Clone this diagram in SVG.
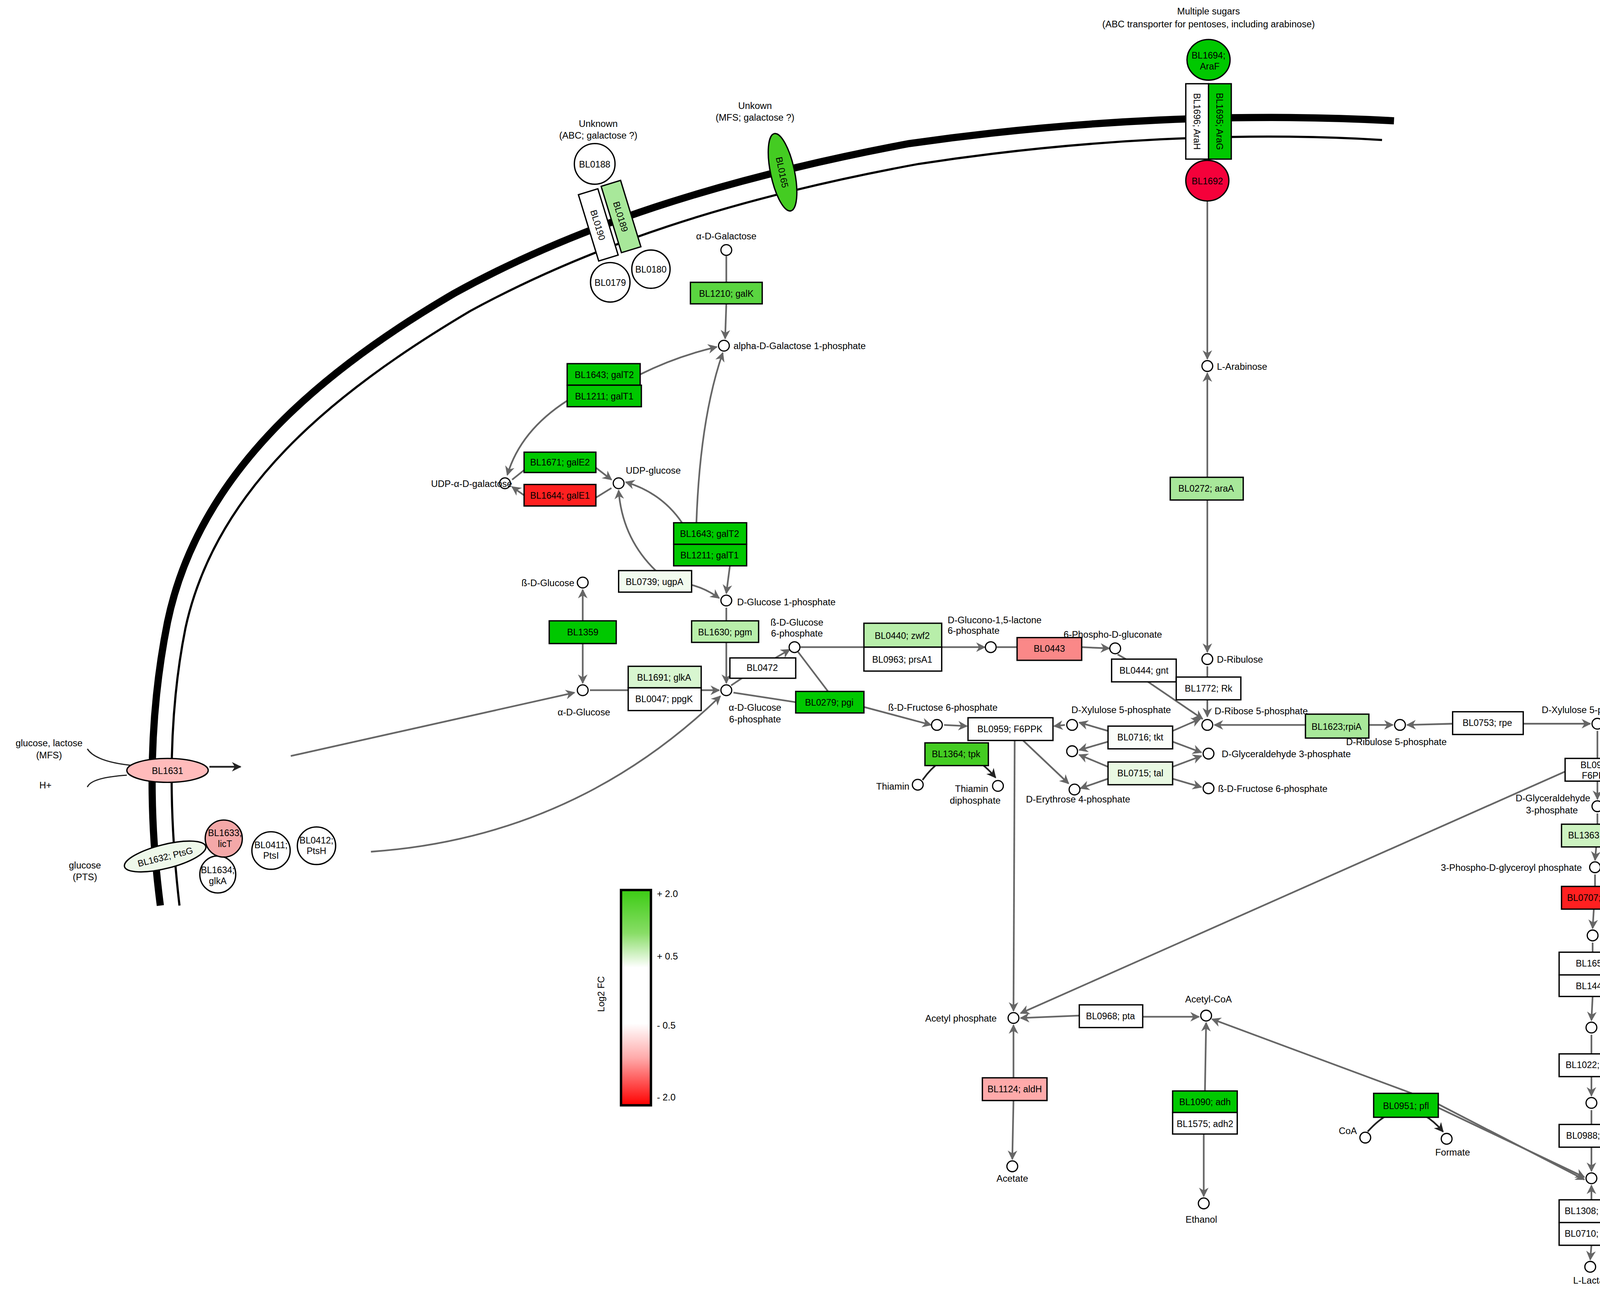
<svg xmlns="http://www.w3.org/2000/svg" width="4803" height="3311" viewBox="0 0 4803 3311">
<style>
text{font-family:"Liberation Sans",Arial,sans-serif;fill:#000}
.m{font-size:7.8px}
.b{font-size:7.6px;text-anchor:middle}
.c{text-anchor:middle}
.e{text-anchor:end}
.bx{stroke:#000;stroke-width:1.1}
.ci{fill:#fff;stroke:#000;stroke-width:1}
.cn{fill:none;stroke:#666;stroke-width:1.4}
.ca{fill:none;stroke:#666;stroke-width:1.4;marker-end:url(#ah)}
.ck{fill:none;stroke:#222;stroke-width:1.4;marker-end:url(#ak)}
.G{fill:#00c800}.G2{fill:#44cc22}.G3{fill:#5ad540}.L1{fill:#a8e89a}.L2{fill:#b8eeaa}.L3{fill:#ccf2c0}.L4{fill:#d8f6d0}.L5{fill:#e8f8e2}.W{fill:#fff}.R{fill:#ff2020}.P{fill:#fa8888}.P2{fill:#ffaaaa}
</style>
<defs>
<marker id="ah" viewBox="0 0 10 10" refX="9" refY="5" markerWidth="8" markerHeight="8" markerUnits="userSpaceOnUse" orient="auto"><path d="M0,0L10,5L0,10L3,5z" fill="#666"/></marker>
<marker id="ak" viewBox="0 0 10 10" refX="9" refY="5" markerWidth="8" markerHeight="8" markerUnits="userSpaceOnUse" orient="auto"><path d="M0,0L10,5L0,10L3,5z" fill="#222"/></marker>
<linearGradient id="lg" x1="0" y1="0" x2="0" y2="1">
<stop offset="0" stop-color="#3ccc14"/><stop offset="0.2" stop-color="#88dd66"/><stop offset="0.36" stop-color="#fff"/><stop offset="0.62" stop-color="#fff"/><stop offset="0.78" stop-color="#ffaaaa"/><stop offset="1" stop-color="#ff0000"/>
</linearGradient>
</defs>
<rect width="4803" height="3311" fill="#fff"/>
<g transform="scale(3.0632)">
<g id="membrane">
<path d="M134,757 C124,680 124,600 140,520 C165,400 260,315 380,245 C480,190 600,150 760,120 C900,100 1040,94 1165,101" fill="none" stroke="#000" stroke-width="6"/>
<path d="M150,757 C141,680 140,600 155,525 C180,410 275,330 393,260 C492,206 610,166 768,137 C905,116 1040,110 1155,117" fill="none" stroke="#000" stroke-width="1.8"/>
</g>
<g id="connectors">
<line class="cn" x1="607" y1="214" x2="607" y2="236"/>
<line class="ca" x1="607" y1="254" x2="606" y2="283"/>
<path class="ca" d="M535,313 Q565,298 599,290"/>
<path class="ca" d="M474,335 Q435,360 424,397"/>
<line class="cn" x1="428" y1="401" x2="438" y2="393"/>
<line class="ca" x1="498" y1="391" x2="511" y2="401"/>
<line class="cn" x1="511" y1="408" x2="498" y2="416"/>
<line class="ca" x1="438" y1="414" x2="428" y2="407"/>
<path class="ca" d="M582,437 Q585,350 604,295"/>
<path class="ca" d="M570,437 Q553,412 523,403"/>
<line class="ca" x1="610" y1="473" x2="607" y2="496"/>
<path class="ca" d="M548,477 Q520,450 517,410"/>
<path class="ca" d="M578,489 Q590,492 601,500"/>
<line class="ca" x1="487" y1="519" x2="487" y2="493"/>
<line class="ca" x1="487" y1="538" x2="487" y2="571"/>
<line class="ca" x1="493" y1="577" x2="601" y2="577"/>
<line class="cn" x1="607" y1="508" x2="607" y2="519"/>
<line class="ca" x1="607" y1="537" x2="607" y2="571"/>
<path class="ca" d="M310,712 Q480,700 602,582"/>
<line class="ca" x1="243" y1="632" x2="480" y2="579"/>
<line class="cn" x1="611" y1="573" x2="620" y2="567"/>
<line class="ca" x1="648" y1="550" x2="660" y2="543"/>
<line class="cn" x1="613" y1="579" x2="665" y2="587"/>
<line class="ca" x1="722" y1="591" x2="778" y2="606"/>
<line class="cn" x1="667" y1="545" x2="692" y2="578"/>
<line class="ca" x1="669" y1="541" x2="823" y2="541"/>
<line class="cn" x1="833" y1="541" x2="850" y2="541"/>
<line class="ca" x1="904" y1="541" x2="927" y2="542"/>
<line class="cn" x1="934" y1="547" x2="941" y2="551"/>
<line class="ca" x1="958" y1="569" x2="1005" y2="601"/>
<line class="ca" x1="1009" y1="168" x2="1009" y2="300"/>
<line class="ca" x1="1009" y1="399" x2="1009" y2="312"/>
<line class="ca" x1="1009" y1="418" x2="1009" y2="545"/>
<line class="cn" x1="1009" y1="557" x2="1009" y2="566"/>
<line class="ca" x1="1009" y1="585" x2="1009" y2="599"/>
<line class="ca" x1="1091" y1="606" x2="1015" y2="606"/>
<line class="ca" x1="1144" y1="606" x2="1164" y2="606"/>
<line class="ca" x1="1214" y1="605" x2="1176" y2="606"/>
<line class="ca" x1="1273" y1="605" x2="1329" y2="605"/>
<line class="cn" x1="1335" y1="611" x2="1335" y2="634"/>
<line class="ca" x1="1335" y1="653" x2="1335" y2="668"/>
<line class="ca" x1="1308" y1="645" x2="853" y2="847"/>
<path class="ck" d="M1361,612 Q1390,645 1420,617"/>
<line class="ca" x1="1380" y1="673" x2="1341" y2="674"/>
<line class="ca" x1="1434" y1="673" x2="1468" y2="674"/>
<path class="ck" d="M1400,702 Q1385,678 1341,674"/>
<path class="ck" d="M1425,702 Q1440,676 1468,674"/>
<line class="ck" x1="1404" y1="721" x2="1407" y2="735"/>
<line class="ck" x1="1411" y1="721" x2="1407" y2="735"/>
<line class="cn" x1="1335" y1="680" x2="1335" y2="689"/>
<line class="ca" x1="1334" y1="708" x2="1333" y2="719"/>
<line class="cn" x1="1333" y1="731" x2="1333" y2="741"/>
<line class="ca" x1="1332" y1="760" x2="1331" y2="776"/>
<line class="cn" x1="1331" y1="788" x2="1331" y2="796"/>
<line class="ca" x1="1331" y1="833" x2="1330" y2="853"/>
<line class="cn" x1="1330" y1="865" x2="1330" y2="881"/>
<line class="ca" x1="1330" y1="900" x2="1330" y2="916"/>
<line class="cn" x1="1330" y1="928" x2="1330" y2="940"/>
<line class="ca" x1="1330" y1="959" x2="1330" y2="979"/>
<line class="ca" x1="1330" y1="1003" x2="1330" y2="991"/>
<line class="ca" x1="1330" y1="1041" x2="1329" y2="1053"/>
<line class="ca" x1="1180" y1="914" x2="1013" y2="852"/>
<line class="ca" x1="1202" y1="926" x2="1324" y2="984"/>
<line class="ca" x1="1200" y1="922" x2="1324" y2="986"/>
<line class="ca" x1="902" y1="849" x2="853" y2="851"/>
<line class="ca" x1="955" y1="850" x2="1002" y2="850"/>
<line class="ca" x1="847" y1="901" x2="847" y2="857"/>
<line class="ca" x1="847" y1="920" x2="846" y2="969"/>
<line class="ca" x1="1007" y1="912" x2="1008" y2="855"/>
<line class="ca" x1="1006" y1="948" x2="1006" y2="1000"/>
<path class="ck" d="M1143,946 Q1175,910 1206,946"/>
<line class="ca" x1="789" y1="606" x2="808" y2="607"/>
<line class="ca" x1="848" y1="619" x2="847" y2="845"/>
<line class="ca" x1="855" y1="619" x2="893" y2="655"/>
<line class="ca" x1="926" y1="611" x2="902" y2="604"/>
<line class="ca" x1="980" y1="611" x2="1003" y2="601"/>
<line class="ca" x1="890" y1="606" x2="881" y2="607"/>
<line class="ca" x1="926" y1="620" x2="902" y2="627"/>
<line class="ca" x1="980" y1="620" x2="1004" y2="629"/>
<line class="ca" x1="926" y1="641" x2="902" y2="631"/>
<line class="ca" x1="980" y1="641" x2="1004" y2="632"/>
<line class="ca" x1="926" y1="651" x2="903" y2="659"/>
<line class="ca" x1="980" y1="651" x2="1004" y2="658"/>
<path class="ck" d="M771,652 Q800,612 832,650"/>
<line class="ck" x1="175" y1="641" x2="201" y2="641"/>
<path d="M73,626 Q80,637 112,640" fill="none" stroke="#222" stroke-width="1"/>
<path d="M73,658 Q76,650 106,648" fill="none" stroke="#222" stroke-width="1"/>
</g>

<g id="labels-top">
<text class="m c" x="1010" y="12">Multiple sugars</text>
<text class="m c" x="1010" y="23">(ABC transporter for pentoses, including arabinose)</text>
<text class="m c" x="631" y="91">Unkown</text>
<text class="m c" x="631" y="101">(MFS; galactose ?)</text>
<text class="m c" x="500" y="106">Unknown</text>
<text class="m c" x="500" y="116">(ABC; galactose ?)</text>
</g>
<g id="BL1694"><ellipse cx="1010" cy="50" rx="18" ry="17" class="bx G"/><text class="b" x="1010" y="49">BL1694;</text><text class="b" x="1011" y="58">AraF</text></g>
<g id="BL1696"><rect x="991" y="70" width="19" height="63" class="bx W"/><text class="b" transform="translate(1000.5,101.5) rotate(90)" dy="3">BL1696; AraH</text></g>
<g id="BL1695"><rect x="1010" y="70" width="19" height="63" class="bx G"/><text class="b" transform="translate(1019.5,101.5) rotate(90)" dy="3">BL1695; AraG</text></g>
<g id="BL1692"><ellipse cx="1009" cy="151" rx="18" ry="17" class="bx" fill="#f5003a"/><text class="b" x="1009" y="154">BL1692</text></g>
<g id="BL0165"><ellipse cx="654" cy="144" rx="10" ry="33" transform="rotate(-12 654 144)" class="bx G2"/><text class="b" transform="translate(654,144) rotate(78)" dy="3">BL0165</text></g>
<g id="BL0188"><circle cx="497" cy="137" r="17" class="bx W"/><text class="b" x="497" y="140">BL0188</text></g>
<g id="BL0190"><g transform="translate(500,188) rotate(-17)"><rect x="-8.5" y="-29" width="17" height="58" class="bx W"/><text class="b" transform="rotate(90)" dy="3">BL0190</text></g></g>
<g id="BL0189"><g transform="translate(519,181) rotate(-17)"><rect x="-8.5" y="-29" width="17" height="58" class="bx L1"/><text class="b" transform="rotate(90)" dy="3">BL0189</text></g></g>
<g id="BL0179"><circle cx="510" cy="236" r="16.5" class="bx W"/><text class="b" x="510" y="239">BL0179</text></g>
<g id="BL0180"><circle cx="544" cy="225" r="16" class="bx W"/><text class="b" x="544" y="228">BL0180</text></g>

<g id="BL1631"><ellipse cx="140" cy="644" rx="34" ry="10" class="bx" fill="#ffbbbb"/><text class="b" x="140" y="647">BL1631</text></g>
<text class="m c" x="41" y="624">glucose, lactose</text>
<text class="m c" x="41" y="634">(MFS)</text>
<text class="m c" x="38" y="659">H+</text>
<g id="BL1632"><ellipse cx="138" cy="716" rx="35" ry="10" transform="rotate(-14 138 716)" class="bx" fill="#eef8ea"/><text class="b" transform="translate(138,716) rotate(-14)" dy="3">BL1632; PtsG</text></g>
<g id="BL1634"><ellipse cx="182" cy="731" rx="15" ry="15.5" class="bx W"/><text class="b" x="182" y="730">BL1634;</text><text class="b" x="182" y="739">glkA</text></g>
<g id="BL1633"><ellipse cx="187" cy="701" rx="15.5" ry="15.5" class="bx" fill="#f4a8a8"/><text class="b" x="188" y="699">BL1633;</text><text class="b" x="188" y="708">licT</text></g>
<g id="BL0411"><ellipse cx="226.5" cy="711" rx="16" ry="15.7" class="bx W"/><text class="b" x="226.5" y="709">BL0411;</text><text class="b" x="226.5" y="718">PtsI</text></g>
<g id="BL0412"><ellipse cx="264.5" cy="707" rx="16" ry="15.7" class="bx W"/><text class="b" x="264.5" y="705">BL0412;</text><text class="b" x="264.5" y="714">PtsH</text></g>
<text class="m c" x="71" y="726">glucose</text>
<text class="m c" x="71" y="736">(PTS)</text>

<g id="galactose">
<circle cx="607" cy="209" r="4.5" class="ci"/><text class="m c" x="607" y="200">α-D-Galactose</text>
<g id="BL1210"><rect x="577" y="236" width="60" height="18" class="bx G3"/><text class="b" x="607" y="248">BL1210; galK</text></g>
<circle cx="605" cy="289" r="4.5" class="ci"/><text class="m" x="613" y="292">alpha-D-Galactose 1-phosphate</text>
<g id="BL1643a"><rect x="474" y="304" width="61" height="18" class="bx G"/><text class="b" x="505" y="316">BL1643; galT2</text></g>
<g id="BL1211a"><rect x="474" y="322" width="62" height="18" class="bx G"/><text class="b" x="505" y="334">BL1211; galT1</text></g>
<circle cx="422" cy="404" r="4.5" class="ci"/><text class="m e" x="428" y="407">UDP-α-D-galactose</text>
<g id="BL1671"><rect x="438" y="378" width="60" height="17" class="bx G"/><text class="b" x="468" y="389">BL1671; galE2</text></g>
<g id="BL1644"><rect x="438" y="405" width="60" height="18" class="bx R"/><text class="b" x="468" y="417">BL1644; galE1</text></g>
<circle cx="517" cy="404" r="4.5" class="ci"/><text class="m" x="523" y="396">UDP-glucose</text>
<g id="BL1643b"><rect x="563" y="437" width="61" height="18" class="bx G"/><text class="b" x="593" y="449">BL1643; galT2</text></g>
<g id="BL1211b"><rect x="563" y="455" width="61" height="18" class="bx G"/><text class="b" x="593" y="467">BL1211; galT1</text></g>
<g id="BL0739"><rect x="517" y="477" width="61" height="18" class="bx" fill="#f2fbef"/><text class="b" x="547" y="489">BL0739; ugpA</text></g>
</g>
<g id="glycolysis-upper">
<circle cx="607" cy="502" r="4.5" class="ci"/><text class="m" x="616" y="506">D-Glucose 1-phosphate</text>
<circle cx="487" cy="487" r="4.5" class="ci"/><text class="m e" x="480" y="490">ß-D-Glucose</text>
<g id="BL1359"><rect x="459" y="519" width="56" height="19" class="bx G"/><text class="b" x="487" y="531">BL1359</text></g>
<circle cx="487" cy="577" r="4.5" class="ci"/><text class="m c" x="488" y="598">α-D-Glucose</text>
<g id="BL1691"><rect x="525" y="557" width="61" height="18" class="bx L4"/><text class="b" x="555" y="569">BL1691; glkA</text></g>
<g id="BL0047"><rect x="525" y="575" width="61" height="19" class="bx W"/><text class="b" x="555" y="587">BL0047; ppgK</text></g>
<g id="BL1630"><rect x="578" y="519" width="56" height="18" class="bx L2"/><text class="b" x="606" y="531">BL1630; pgm</text></g>
<circle cx="607" cy="577" r="4.5" class="ci"/><text class="m c" x="631" y="594">α-D-Glucose</text><text class="m c" x="631" y="604">6-phosphate</text>
<g id="BL0472"><rect x="610" y="550" width="55" height="17" class="bx W"/><text class="b" x="637" y="561">BL0472</text></g>
<circle cx="664" cy="541" r="4.5" class="ci"/><text class="m c" x="666" y="523">ß-D-Glucose</text><text class="m c" x="666" y="532">6-phosphate</text>
<g id="BL0279"><rect x="665" y="578" width="57" height="18" class="bx G"/><text class="b" x="693" y="590">BL0279; pgi</text></g>
<g id="BL0440"><rect x="722" y="521" width="65" height="20" class="bx L2"/><text class="b" x="754" y="534">BL0440; zwf2</text></g>
<g id="BL0963"><rect x="722" y="541" width="65" height="20" class="bx W"/><text class="b" x="754" y="554">BL0963; prsA1</text></g>
<text class="m" x="792" y="521">D-Glucono-1,5-lactone</text><text class="m" x="792" y="530">6-phosphate</text>
<circle cx="828" cy="541" r="4.5" class="ci"/>
<g id="BL0443"><rect x="850" y="533" width="54" height="19" class="bx P"/><text class="b" x="877" y="545">BL0443</text></g>
<circle cx="932" cy="542" r="4.5" class="ci"/><text class="m c" x="930" y="533">6-Phospho-D-gluconate</text>
<g id="BL0444"><rect x="929" y="551" width="54" height="19" class="bx W"/><text class="b" x="956" y="563">BL0444; gnt</text></g>
<g id="BL1772"><rect x="983" y="566" width="54" height="19" class="bx W"/><text class="b" x="1010" y="578">BL1772; Rk</text></g>
<circle cx="1009" cy="551" r="4.5" class="ci"/><text class="m" x="1017" y="554">D-Ribulose</text>
<circle cx="1009" cy="306" r="4.5" class="ci"/><text class="m" x="1017" y="309">L-Arabinose</text>
<g id="BL0272"><rect x="978" y="399" width="61" height="19" class="bx L1"/><text class="b" x="1008" y="411">BL0272; araA</text></g>
</g>
<g id="ppp">
<circle cx="1009" cy="606" r="4.5" class="ci"/><text class="m" x="1015" y="597">D-Ribose 5-phosphate</text>
<g id="BL1623"><rect x="1091" y="597" width="53" height="20" class="bx L1"/><text class="b" x="1117" y="610">BL1623;rpiA</text></g>
<circle cx="1170" cy="606" r="4.5" class="ci"/><text class="m c" x="1167" y="623">D-Ribulose 5-phosphate</text>
<g id="BL0753"><rect x="1214" y="595" width="59" height="19" class="bx W"/><text class="b" x="1243" y="607">BL0753; rpe</text></g>
<circle cx="1335" cy="605" r="4.5" class="ci"/><text class="m c" x="1330" y="596">D-Xylulose 5-phosphate</text>
<circle cx="783" cy="606" r="4.5" class="ci"/><text class="m c" x="788" y="594">ß-D-Fructose 6-phosphate</text>
<g id="BL0959a"><rect x="809" y="600" width="71" height="19" class="bx W"/><text class="b" x="844" y="612">BL0959; F6PPK</text></g>
<circle cx="896" cy="606" r="4.5" class="ci"/><text class="m c" x="937" y="596">D-Xylulose 5-phosphate</text>
<g id="BL0716"><rect x="926" y="607" width="54" height="19" class="bx" fill="#fafdf9"/><text class="b" x="953" y="619">BL0716; tkt</text></g>
<circle cx="896" cy="628" r="4.5" class="ci"/>
<g id="BL0715"><rect x="926" y="637" width="54" height="19" class="bx L5"/><text class="b" x="953" y="649">BL0715; tal</text></g>
<circle cx="1010" cy="630" r="4.5" class="ci"/><text class="m" x="1021" y="633">D-Glyceraldehyde 3-phosphate</text>
<circle cx="1010" cy="659" r="4.5" class="ci"/><text class="m" x="1018" y="662">ß-D-Fructose 6-phosphate</text>
<circle cx="898" cy="660" r="4.5" class="ci"/><text class="m c" x="901" y="671">D-Erythrose 4-phosphate</text>
<g id="BL1364a"><rect x="773" y="621" width="53" height="19" class="bx G2"/><text class="b" x="799" y="633">BL1364; tpk</text></g>
<circle cx="767" cy="656" r="4.5" class="ci"/><text class="m e" x="760" y="660">Thiamin</text>
<circle cx="834" cy="657" r="4.5" class="ci"/><text class="m c" x="812" y="662">Thiamin</text><text class="m c" x="815" y="672">diphosphate</text>
</g>
<g id="glycolysis-lower">
<circle cx="1357" cy="615" r="4.5" class="ci"/><text class="m" x="1366" y="615">Thiamin</text>
<circle cx="1424" cy="615" r="4.5" class="ci"/><text class="m" x="1434" y="609">Thiamin</text><text class="m" x="1434" y="619">diphosphate</text>
<g id="BL1364b"><rect x="1365" y="627" width="54" height="19" class="bx G2"/><text class="b" x="1392" y="639">BL1364; tpk</text></g>
<g id="BL0959b"><rect x="1308" y="634" width="53" height="19" class="bx W"/><text class="b" x="1335" y="642">BL0959;</text><text class="b" x="1334" y="651">F6PPK</text></g>
<circle cx="1335" cy="674" r="4.5" class="ci"/><text class="m e" x="1329" y="670">D-Glyceraldehyde</text><text class="m c" x="1297" y="680">3-phosphate</text>
<g id="BL0708"><rect x="1380" y="664" width="54" height="18" class="bx W"/><text class="b" x="1407" y="676">BL0708; tpiA</text></g>
<circle cx="1474" cy="674" r="4.5" class="ci"/><text class="m" x="1481" y="677">Glycerone phosphate</text>
<g id="BL1363"><rect x="1305" y="689" width="54" height="19" class="bx L3"/><text class="b" x="1332" y="701">BL1363; gap</text></g>
<g id="BL0550"><rect x="1381" y="702" width="54" height="19" class="bx G"/><text class="b" x="1408" y="714">BL0550; fba</text></g>
<circle cx="1407" cy="740" r="4.5" class="ci"/><text class="m" x="1415" y="743">ß-D-Fructose 1,6-bisphosphate</text>
<circle cx="1333" cy="725" r="4.5" class="ci"/><text class="m e" x="1322" y="728">3-Phospho-D-glyceroyl phosphate</text>
<g id="BL0707"><rect x="1305" y="741" width="53" height="19" class="bx R"/><text class="b" x="1331" y="753">BL0707; pgk</text></g>
<circle cx="1331" cy="782" r="4.5" class="ci"/><text class="m" x="1340" y="785">3-Phospho-D-glycerate</text>
<g id="BL1656"><rect x="1303" y="796" width="54" height="19" class="bx W"/><text class="b" x="1330" y="808">BL1656</text></g>
<g id="BL1447"><rect x="1303" y="815" width="54" height="18" class="bx W"/><text class="b" x="1330" y="827">BL1447</text></g>
<circle cx="1330" cy="859" r="4.5" class="ci"/><text class="m" x="1340" y="862">2-Phospho-D-glycerate</text>
<g id="BL1022"><rect x="1303" y="881" width="54" height="19" class="bx W"/><text class="b" x="1330" y="893">BL1022; eno</text></g>
<circle cx="1330" cy="922" r="4.5" class="ci"/><text class="m" x="1337" y="925">Phosphoenolpyruvate</text>
<g id="BL0988"><rect x="1303" y="940" width="54" height="19" class="bx W"/><text class="b" x="1330" y="952">BL0988; pyk</text></g>
<circle cx="1330" cy="985" r="4.5" class="ci"/><text class="m" x="1340" y="988">Pyruvate</text>
<g id="BL1308"><rect x="1303" y="1003" width="54" height="19" class="bx W"/><text class="b" x="1330" y="1015">BL1308; ldh1</text></g>
<g id="BL0710"><rect x="1303" y="1022" width="54" height="19" class="bx W"/><text class="b" x="1330" y="1034">BL0710; ldh1</text></g>
<circle cx="1329" cy="1059" r="4.5" class="ci"/><text class="m c" x="1331" y="1073">L-Lactate</text>
</g>
<g id="fermentation">
<circle cx="847" cy="851" r="4.5" class="ci"/><text class="m e" x="833" y="854">Acetyl phosphate</text>
<g id="BL0968"><rect x="902" y="840" width="53" height="19" class="bx W"/><text class="b" x="928" y="852">BL0968; pta</text></g>
<circle cx="1008" cy="849" r="4.5" class="ci"/><text class="m c" x="1010" y="838">Acetyl-CoA</text>
<g id="BL1124"><rect x="821" y="901" width="54" height="19" class="bx P2"/><text class="b" x="848" y="913">BL1124; aldH</text></g>
<circle cx="846" cy="975" r="4.5" class="ci"/><text class="m c" x="846" y="988">Acetate</text>
<g id="BL1090"><rect x="980" y="912" width="54" height="18" class="bx G"/><text class="b" x="1007" y="924">BL1090; adh</text></g>
<g id="BL1575"><rect x="980" y="930" width="54" height="18" class="bx W"/><text class="b" x="1007" y="942">BL1575; adh2</text></g>
<circle cx="1006" cy="1006" r="4.5" class="ci"/><text class="m c" x="1004" y="1022">Ethanol</text>
<g id="BL0951"><rect x="1148" y="914" width="54" height="20" class="bx G"/><text class="b" x="1175" y="927">BL0951; pfl</text></g>
<circle cx="1141" cy="951" r="4.5" class="ci"/><text class="m e" x="1134" y="948">CoA</text>
<circle cx="1209" cy="952" r="4.5" class="ci"/><text class="m c" x="1214" y="966">Formate</text>
</g>
<g id="legend">
<rect x="519" y="744" width="25" height="180" fill="url(#lg)" stroke="#000" stroke-width="2"/>
<text class="m" x="549" y="750">+ 2.0</text>
<text class="m" x="549" y="802">+ 0.5</text>
<text class="m" x="549" y="860">- 0.5</text>
<text class="m" x="549" y="920">- 2.0</text>
<text class="m c" transform="translate(505,831) rotate(-90)">Log2 FC</text>
</g>
</g>
</svg>
